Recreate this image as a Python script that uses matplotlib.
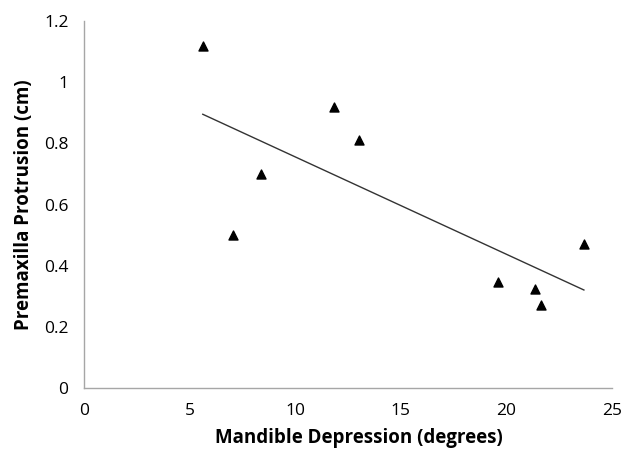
import numpy as np
import matplotlib
matplotlib.use("Agg")
import matplotlib.pyplot as plt

# values
mandible_deg = [5.63, 7.05, 8.38, 11.84, 13.02, 19.6, 21.35, 21.64, 23.67]
premaxilla_cm = [1.12, 0.50, 0.70, 0.92, 0.81, 0.345, 0.325, 0.27, 0.47]
x_ticks = [0, 5, 10, 15, 20, 25]
y_ticks = [0, 0.2, 0.4, 0.6, 0.8, 1.0, 1.2]
y_tick_labels = ["0", "0.2", "0.4", "0.6", "0.8", "1", "1.2"]

plt.rcParams["font.family"] = ["Open Sans", "DejaVu Sans"]

fig = plt.figure(figsize=(6.21, 4.5), dpi=100)
ax = fig.add_axes([0.135, 0.138, 0.8505, 0.815])

ax.scatter(mandible_deg, premaxilla_cm, marker="^", s=42, color="black", zorder=3)

# linear trendline
m, b = np.polyfit(mandible_deg, premaxilla_cm, 1)
xs = np.array([min(mandible_deg), max(mandible_deg)])
ax.plot(xs, m*xs+b, color="#333333", lw=1.0)

ax.set_xlim(0, 25); ax.set_ylim(0, 1.2)
ax.set_xticks(x_ticks); ax.set_yticks(y_ticks)
ax.set_yticklabels(y_tick_labels)
ax.tick_params(length=0, labelsize=12.5, colors="black")
ax.tick_params(axis="x", pad=11)
ax.tick_params(axis="y", pad=11)
for s in ["top", "right"]: ax.spines[s].set_visible(False)
for s in ["left", "bottom"]:
    ax.spines[s].set_color("#a6a6a6"); ax.spines[s].set_linewidth(1.0)

ax.set_xlabel("Mandible Depression (degrees)", fontsize=13.5, fontweight="bold")
ax.xaxis.set_label_coords(0.52, -0.11)
ax.set_ylabel("Premaxilla Protrusion (cm)", fontsize=13.5, fontweight="bold", labelpad=7)

fig.savefig("out.png", dpi=100)
